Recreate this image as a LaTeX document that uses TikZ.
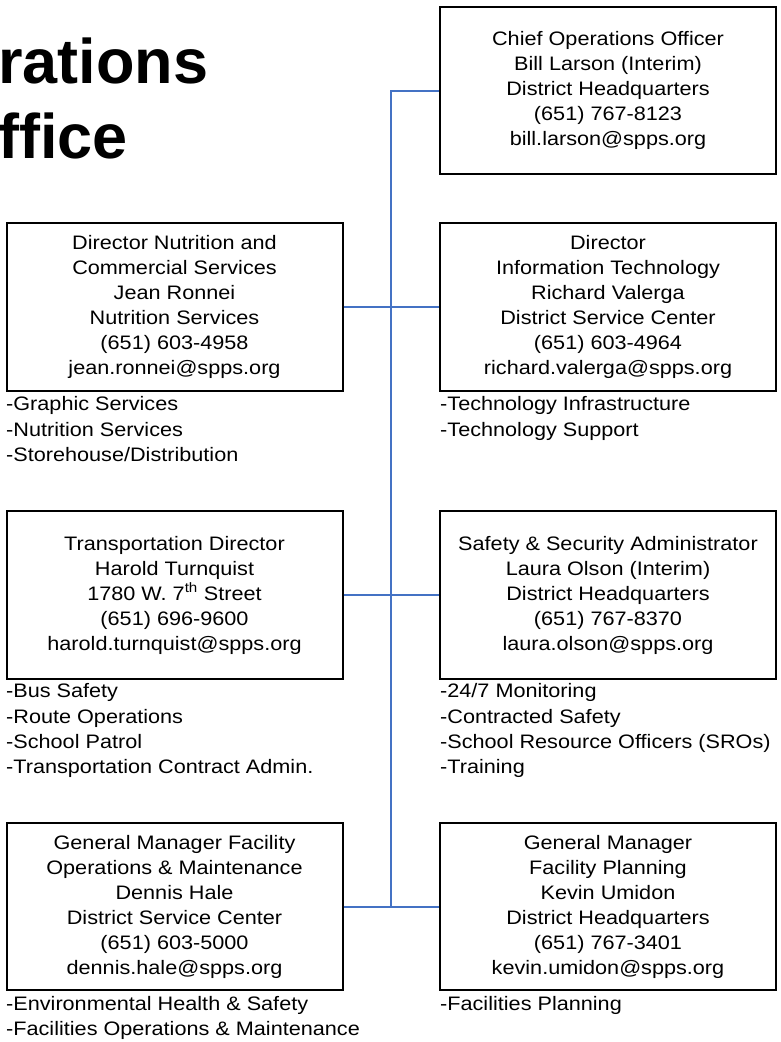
\documentclass[tikz,border=0pt]{standalone}
\usepackage{fontspec}
\setmainfont{Liberation Sans}[FakeStretch=1.11]
\newfontfamily\titlefont{Liberation Sans}
\definecolor{connblue}{RGB}{68,114,196}
\tikzset{
  box/.style={draw=black, line width=2pt, minimum width=336pt, minimum height=167.5pt,
    align=center, inner sep=0pt, font=\fontsize{19.5}{25}\selectfont},
  conn/.style={draw=connblue, line width=2pt},
  list/.style={anchor=north west, inner sep=0pt, align=left, font=\fontsize{19.5}{25.3}\selectfont},
  title/.style={anchor=base west, inner sep=0pt, font=\titlefont\fontsize{63}{70}\selectfont\bfseries}
}
\begin{document}
\begin{tikzpicture}[x=1pt,y=-1pt]
\useasboundingbox (0,0) rectangle (780,1042);
% title (cropped)
\node[title] (t1) at (-2,83) {rations};
\node[title] (t2) at (-2,158) {ffice};
% boxes
\node[box] (coo) at (608,90.5) {Chief Operations Officer\\Bill Larson (Interim)\\District Headquarters\\(651) 767-8123\\bill.larson@spps.org};
\node[box] (nut) at (174.5,307) {Director Nutrition and\\Commercial Services\\Jean Ronnei\\Nutrition Services\\(651) 603-4958\\jean.ronnei@spps.org};
\node[box] (it) at (608,307) {Director\\Information Technology\\Richard Valerga\\District Service Center\\(651) 603-4964\\richard.valerga@spps.org};
\node[box] (trans) at (174.5,595) {Transportation Director\\Harold Turnquist\\1780 W. 7\textsuperscript{th} Street\\(651) 696-9600\\harold.turnquist@spps.org};
\node[box] (safe) at (608,595) {Safety \& Security Administrator\\Laura Olson (Interim)\\District Headquarters\\(651) 767-8370\\laura.olson@spps.org};
\node[box] (fac) at (174.5,906.7) {General Manager Facility\\Operations \& Maintenance\\Dennis Hale\\District Service Center\\(651) 603-5000\\dennis.hale@spps.org};
\node[box] (plan) at (608,906.7) {General Manager\\Facility Planning\\Kevin Umidon\\District Headquarters\\(651) 767-3401\\kevin.umidon@spps.org};
% lists
\node[list] (lnut) at (6,396.5) {-Graphic Services\\-Nutrition Services\\-Storehouse/Distribution};
\node[list] (lit) at (440,396.5) {-Technology Infrastructure\\-Technology Support};
\node[list] (ltrans) at (6,683.5) {-Bus Safety\\-Route Operations\\-School Patrol\\-Transportation Contract Admin.};
\node[list] (lsafe) at (440,683.5) {-24/7 Monitoring\\-Contracted Safety\\-School Resource Officers (SROs)\\-Training};
\node[list] (lfac) at (6,996) {-Environmental Health \& Safety\\-Facilities Operations \& Maintenance};
\node[list] (lplan) at (440,996) {-Facilities Planning};
% connectors
\coordinate (trunkbot) at (391,906.7);
\draw[conn] (coo.west) -| (trunkbot);
\draw[conn] (nut.east) -- (it.west);
\draw[conn] (trans.east) -- (safe.west);
\draw[conn] (fac.east) -- (plan.west);
\end{tikzpicture}
\end{document}
